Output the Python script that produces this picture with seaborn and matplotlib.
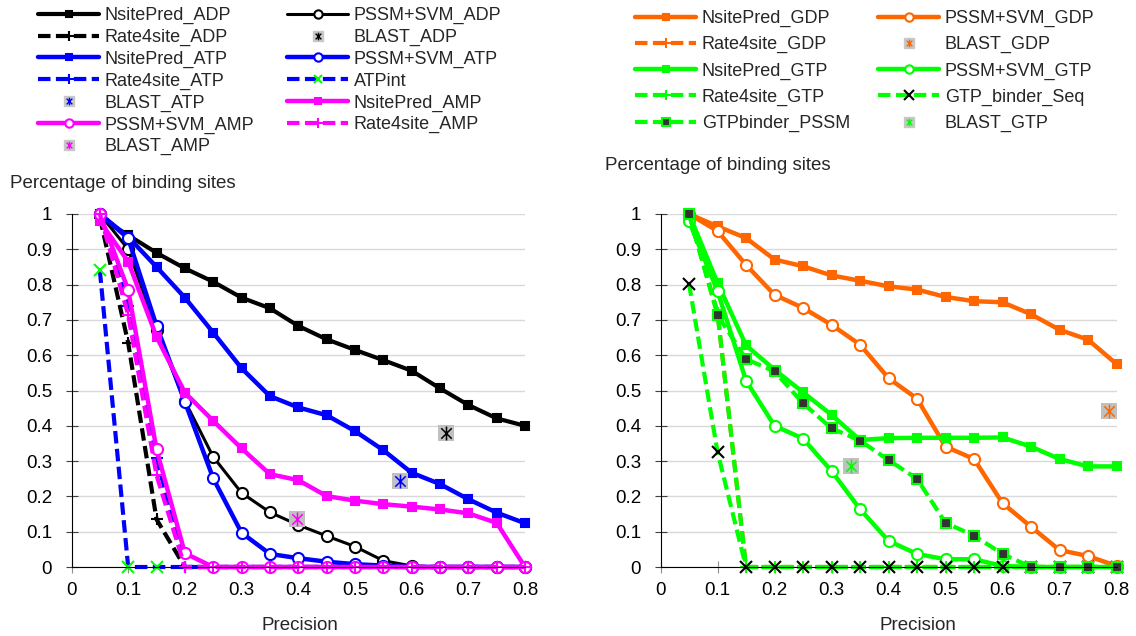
import numpy as np
import matplotlib.pyplot as plt
import seaborn as sns
from matplotlib.lines import Line2D
from matplotlib.path import Path

sns.set_theme(style='white')
plt.rcParams['font.family'] = ['Liberation Sans', 'DejaVu Sans']

# x categories shared by all curves
precision = [0.05, 0.1, 0.15, 0.2, 0.25, 0.3, 0.35, 0.4, 0.45, 0.5, 0.55, 0.6, 0.65, 0.7, 0.75, 0.8]

# left panel: ADP / ATP / AMP
nsite_adp = [0.99, 0.94, 0.89, 0.846, 0.808, 0.763, 0.733, 0.683, 0.645, 0.615, 0.586, 0.556, 0.506, 0.459, 0.421, 0.40]
pssm_adp = [1.0, 0.90, 0.67, 0.47, 0.312, 0.21, 0.155, 0.119, 0.088, 0.058, 0.018, 0.003, 0, 0, 0, 0]
rate_adp = [0.99, 0.635, 0.135, 0, 0, 0, 0, 0, 0, 0, 0, 0, 0, 0, 0, 0]
nsite_atp = [1.0, 0.935, 0.85, 0.763, 0.664, 0.563, 0.484, 0.452, 0.43, 0.385, 0.331, 0.267, 0.235, 0.192, 0.154, 0.124]
pssm_atp = [1.0, 0.931, 0.683, 0.468, 0.251, 0.097, 0.037, 0.025, 0.015, 0.008, 0.004, 0, 0, 0, 0, 0]
rate_atp = [1.0, 0.74, 0.31, 0, 0, 0, 0, 0, 0, 0, 0, 0, 0, 0, 0, 0]
atpint = [0.84, 0, 0, 0, 0, 0, 0, 0, 0, 0, 0, 0, 0, 0, 0, 0]
nsite_amp = [0.98, 0.865, 0.652, 0.494, 0.414, 0.336, 0.263, 0.246, 0.201, 0.188, 0.178, 0.171, 0.163, 0.152, 0.125, 0.0]
pssm_amp = [1.0, 0.785, 0.333, 0.039, 0, 0, 0, 0, 0, 0, 0, 0, 0, 0, 0, 0]
rate_amp = [1.0, 0.714, 0.26, 0, 0, 0, 0, 0, 0, 0, 0, 0, 0, 0, 0, 0]
blast_left_x = [0.66, 0.579, 0.397]
blast_left_y = [0.381, 0.244, 0.136]

# right panel: GDP / GTP
nsite_gdp = [1.0, 0.965, 0.932, 0.871, 0.852, 0.826, 0.811, 0.795, 0.786, 0.765, 0.753, 0.75, 0.716, 0.672, 0.644, 0.575]
pssm_gdp = [1.0, 0.952, 0.856, 0.771, 0.734, 0.686, 0.63, 0.535, 0.477, 0.341, 0.306, 0.181, 0.114, 0.048, 0.031, 0.003]
rate_gdp = [1.0, 0.72, 0, 0, 0, 0, 0, 0, 0, 0, 0, 0, 0, 0, 0, 0]
nsite_gtp = [1.0, 0.805, 0.628, 0.559, 0.495, 0.431, 0.36, 0.365, 0.366, 0.366, 0.366, 0.367, 0.341, 0.306, 0.285, 0.285]
pssm_gtp = [0.98, 0.782, 0.528, 0.40, 0.364, 0.272, 0.164, 0.074, 0.037, 0.022, 0.022, 0.003, 0, 0, 0, 0]
rate_gtp = [1.0, 0.72, 0, 0, 0, 0, 0, 0, 0, 0, 0, 0, 0, 0, 0, 0]
gtp_seq = [0.803, 0.326, 0, 0, 0, 0, 0, 0, 0, 0, 0, 0, 0, 0, 0, 0]
gtp_pssm = [1.0, 0.714, 0.589, 0.554, 0.464, 0.393, 0.358, 0.303, 0.25, 0.125, 0.089, 0.037, 0, 0, 0, 0]
blast_right_x = [0.786, 0.334]
blast_right_y = [0.441, 0.287]

BLACK, BLUE, MAGENTA = '#000000', '#0000FF', '#FF00FF'
ORANGE, GREEN = '#FF6600', '#00FF00'
DASH = (0, (3, 1.3))
# excel-like star: vertical bar plus an X
STAR = Path([(0, -1), (0, 1), (-0.75, -0.75), (0.75, 0.75), (-0.75, 0.75), (0.75, -0.75)],
            [Path.MOVETO, Path.LINETO, Path.MOVETO, Path.LINETO, Path.MOVETO, Path.LINETO])


def style(color, ls, marker, lw=3.2, fill=None, ms=6, mec=None, mew=1.5):
    return dict(color=color, linestyle=ls, lw=lw, marker=marker, markersize=ms,
                markerfacecolor=color if fill is None else fill,
                markeredgecolor=color if mec is None else mec, markeredgewidth=mew)


def curve(ax, y, st, **kw):
    sns.lineplot(x=precision, y=y, ax=ax, legend=False, clip_on=False, **st, **kw)


def blast(ax, x, y, color):
    sns.lineplot(x=[x], y=[y], ax=ax, legend=False, clip_on=False, linestyle='none',
                 marker='s', markersize=12, color='#C0C0C0', markerfacecolor='#C0C0C0',
                 markeredgecolor='#C0C0C0', markeredgewidth=0)
    sns.lineplot(x=[x], y=[y], ax=ax, legend=False, clip_on=False, linestyle='none',
                 marker=STAR, markersize=10, color=color, markerfacecolor='none',
                 markeredgecolor=color, markeredgewidth=1.1)


def proxy(st=None, blast_color=None, ms=None):
    if blast_color is not None:
        sq = Line2D([], [], linestyle='none', marker='s', markersize=6.5,
                    markerfacecolor='#C8C8C8', markeredgecolor='#C8C8C8')
        ast = Line2D([], [], linestyle='none', marker=STAR, markersize=5.5,
                     markerfacecolor='none', markeredgecolor=blast_color, markeredgewidth=1.0)
        return (sq, ast)
    st = dict(st)
    st['markersize'] = ms
    return Line2D([], [], **st)


fig = plt.figure(figsize=(11.36, 6.36), dpi=100)
axL = fig.add_axes([71.5 / 1136, 69 / 636, 453.5 / 1136, 353 / 636])
axR = fig.add_axes([660.5 / 1136, 69 / 636, 456 / 1136, 353 / 636])

# ---- left panel
s_nadp = style(BLACK, '-', 's', lw=3.0)
s_padp = style(BLACK, '-', 'o', lw=2.2, fill='white', ms=8)
s_radp = style(BLACK, DASH, '+', lw=3.0, ms=9)
s_natp = style(BLUE, '-', 's')
s_patp = style(BLUE, '-', 'o', fill='white', ms=8)
s_ratp = style(BLUE, DASH, '+', lw=3.0, ms=9)
s_atpint = style(BLUE, DASH, 'x', lw=3.0, ms=8, mec=GREEN)
s_namp = style(MAGENTA, '-', 's')
s_pamp = style(MAGENTA, '-', 'o', fill='white', ms=8)
s_ramp = style(MAGENTA, DASH, '+', lw=3.0, ms=9)

curve(axL, nsite_adp, s_nadp)
curve(axL, pssm_adp, s_padp)
curve(axL, rate_adp, s_radp)
curve(axL, nsite_atp, s_natp)
curve(axL, pssm_atp, s_patp)
curve(axL, rate_atp, s_ratp)
curve(axL, atpint, s_atpint, markevery=[0, 1, 2])
curve(axL, nsite_amp, s_namp)
curve(axL, pssm_amp, s_pamp)
curve(axL, rate_amp, s_ramp)
for bx, by, c in zip(blast_left_x, blast_left_y, [BLACK, BLUE, MAGENTA]):
    blast(axL, bx, by, c)

# ---- right panel
s_ngdp = style(ORANGE, '-', 's')
s_pgdp = style(ORANGE, '-', 'o', fill='white', ms=8)
s_rgdp = style(ORANGE, DASH, '+', lw=3.0, ms=9)
s_ngtp = style(GREEN, '-', 's')
s_pgtp = style(GREEN, '-', 'o', fill='white', ms=8)
s_rgtp = style(GREEN, DASH, '+', lw=3.0, ms=9)
s_gseq = style(GREEN, DASH, 'x', lw=3.0, ms=9, mec=BLACK)
s_gpssm = style(GREEN, DASH, 's', lw=3.0, ms=7, fill='#333333', mec=GREEN)

curve(axR, nsite_gdp, s_ngdp)
curve(axR, pssm_gdp, s_pgdp)
curve(axR, rate_gdp, s_rgdp)
curve(axR, nsite_gtp, s_ngtp)
curve(axR, pssm_gtp, s_pgtp)
curve(axR, rate_gtp, s_rgtp)
curve(axR, gtp_seq, s_gseq)
curve(axR, gtp_pssm, s_gpssm)
for bx, by, c in zip(blast_right_x, blast_right_y, [ORANGE, GREEN]):
    blast(axR, bx, by, c)

for ax in (axL, axR):
    ax.set_xlim(0, 0.8)
    ax.set_ylim(0, 1)
    xt = np.round(np.arange(0, 0.81, 0.1), 1)
    yt = np.round(np.arange(0, 1.01, 0.1), 1)
    ax.set_xticks(xt)
    ax.set_xticklabels([f'{v:g}' for v in xt])
    ax.set_yticks(yt)
    ax.set_yticklabels([f'{v:g}' for v in yt])
    ax.set_xlabel('')
    ax.set_ylabel('')
    ax.yaxis.grid(True, color='#D9D9D9', lw=1)
    ax.xaxis.grid(False)
    ax.set_axisbelow(True)
    for sp in ('top', 'right'):
        ax.spines[sp].set_visible(False)
    for sp in ('left', 'bottom'):
        ax.spines[sp].set_color('black')
        ax.spines[sp].set_linewidth(0.8)
    ax.tick_params(axis='both', which='major', direction='inout', length=8, width=0.8,
                   labelsize=13.5, colors='black', left=True, bottom=True)
    ax.tick_params(axis='x', color='#909090', pad=7)
    ax.tick_params(axis='y', color='#404040', pad=10)

fig.text(10 / 1136, 1 - 183 / 636, 'Percentage of binding sites', fontsize=13.5, ha='left', va='center')
fig.text(605 / 1136, 1 - 165 / 636, 'Percentage of binding sites', fontsize=13.5, ha='left', va='center')
fig.text(300 / 1136, 1 - 625 / 636, 'Precision', fontsize=13.5, ha='center', va='center')
fig.text(918 / 1136, 1 - 625 / 636, 'Precision', fontsize=13.5, ha='center', va='center')

# legends, ordered so that matplotlib's column fill matches the row-wise layout
left_items = [
    (proxy(s_nadp, ms=5), 'NsitePred_ADP'),
    (proxy(s_radp, ms=7), 'Rate4site_ADP'),
    (proxy(s_natp, ms=5), 'NsitePred_ATP'),
    (proxy(s_ratp, ms=7), 'Rate4site_ATP'),
    (proxy(blast_color=BLUE), 'BLAST_ATP'),
    (proxy(s_pamp, ms=6), 'PSSM+SVM_AMP'),
    (proxy(blast_color=MAGENTA), 'BLAST_AMP'),
    (proxy(s_padp, ms=6), 'PSSM+SVM_ADP'),
    (proxy(blast_color=BLACK), 'BLAST_ADP'),
    (proxy(s_patp, ms=6), 'PSSM+SVM_ATP'),
    (proxy(s_atpint, ms=6), 'ATPint'),
    (proxy(s_namp, ms=5), 'NsitePred_AMP'),
    (proxy(s_ramp, ms=7), 'Rate4site_AMP'),
]
right_items = [
    (proxy(s_ngdp, ms=5), 'NsitePred_GDP'),
    (proxy(s_rgdp, ms=7), 'Rate4site_GDP'),
    (proxy(s_ngtp, ms=5), 'NsitePred_GTP'),
    (proxy(s_rgtp, ms=7), 'Rate4site_GTP'),
    (proxy(s_gpssm, ms=6), 'GTPbinder_PSSM'),
    (proxy(s_pgdp, ms=6), 'PSSM+SVM_GDP'),
    (proxy(blast_color=ORANGE), 'BLAST_GDP'),
    (proxy(s_pgtp, ms=6), 'PSSM+SVM_GTP'),
    (proxy(s_gseq, ms=7), 'GTP_binder_Seq'),
    (proxy(blast_color=GREEN), 'BLAST_GTP'),
]

for items, anchor, spacing, colsp in [
    (left_items, (38 / 1136, 1 - 7 / 636), 0.26, 1.8),
    (right_items, (635 / 1136, 1 - 10 / 636), 0.5, 1.55),
]:
    fig.legend([h for h, _ in items], [l for _, l in items], loc='upper left',
               bbox_to_anchor=anchor, ncol=2, frameon=False, fontsize=13,
               handlelength=3.4, handletextpad=0.3, columnspacing=colsp,
               labelspacing=spacing, borderpad=0, borderaxespad=0, numpoints=1)

fig.savefig('out.png', dpi=100)
